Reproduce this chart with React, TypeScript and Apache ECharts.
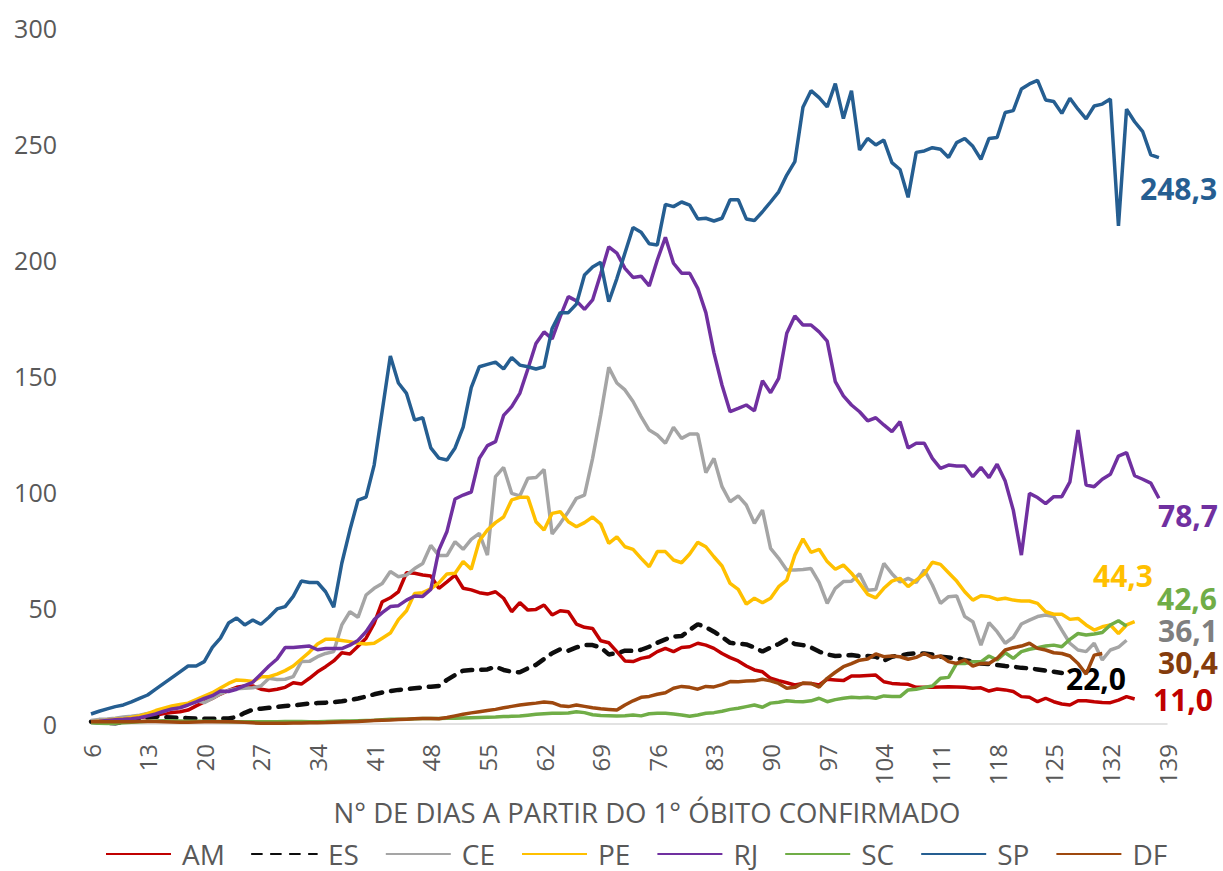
import React, { useEffect, useRef } from "react";
import * as echarts from "echarts";

const FIRST_DAY = 6;
const LAST_DAY = 139;
const days: string[] = [];
for (let d = FIRST_DAY; d <= LAST_DAY; d++) days.push(String(d));

const yTicks = { min: 0, max: 300, interval: 50 };

// values from day 6 onward
const AM = [
  1, 1.2, 1.4, 1.7, 2, 2.4, 2.8, 3.2, 3.8, 4.5,
  5, 5.3, 6, 7.8, 9.5, 11, 12.9, 14.5, 15.8, 16.4,
  16.4, 15, 14.4, 15, 15.8, 17.8, 17.2, 19.7, 22.5, 24.7,
  27.2, 30.7, 30.2, 33.5, 37, 43.4, 52.7, 54.4, 57, 65.2,
  65, 64.2, 63.8, 58.5, 61.3, 64.2, 58.5, 57.8, 56.6, 56,
  57, 54.2, 48.4, 52.3, 49.1, 49.4, 51.3, 47, 48.8, 48.4,
  43.1, 41.7, 41.2, 35.9, 35, 31.2, 27.2, 26.9, 28.3, 29,
  31.2, 32.6, 31.2, 33, 33.3, 34.8, 34, 32.6, 30.4, 28.6,
  27.2, 25, 23.3, 22.5, 19.7, 18.7, 17.8, 16.8, 17.5, 17.5,
  16.8, 19.3, 19, 18.7, 20.7, 20.7, 20.9, 21.1, 18.2, 17.5,
  17.2, 17.1, 15.8, 15.8, 15.8, 16, 16.1, 16, 15.8, 15.4,
  15.6, 14.2, 15.1, 14.7, 14, 11.8, 11.5, 9.6, 11.1, 9.6,
  8.6, 8.2, 10, 10, 9.6, 9.3, 9.2, 10.3, 11.8, 10.8,
];

const ES = [
  1, 0.8, 0.5, 0.3, 0.8, 1.5, 2.2, 2.8, 3.2, 3,
  2.8, 2.6, 2.5, 2.4, 2.3, 2.3, 2.3, 2.4, 3, 4.8,
  6.2, 6.6, 7, 7.4, 7.8, 8, 8.4, 8.8, 9, 9.2,
  9.4, 9.8, 10.3, 11, 11.8, 12.8, 13.6, 14.2, 14.7, 15,
  15.4, 15.8, 16.1, 16.4, 19, 21.1, 23, 23.3, 23.3, 23.5,
  24.7, 23.3, 22.5, 22.3, 24, 25.5, 28, 30.5, 32.2, 31.6,
  33, 34, 34, 33, 30, 30.5, 31.6, 31.5, 32, 33.3,
  35, 36.5, 37.7, 37.9, 40.5, 43, 41.7, 39.8, 37.5, 35,
  34.6, 34.3, 33, 31.2, 33, 34.5, 36.5, 34.5, 34, 33,
  31.2, 30, 29.3, 29.5, 29.7, 29.3, 29.3, 29, 27.3, 29,
  29.5, 30.2, 30.5, 30.4, 30, 29, 28.7, 28.3, 27.5, 27,
  26.1, 25.8, 25.4, 25, 24.7, 24.2, 24, 23.5, 23, 22.5,
  22,
];

const CE = [
  1.5, 2, 2.2, 2.5, 3, 3.3, 3.8, 4.5, 5, 5.5,
  6.5, 7.5, 8.5, 10, 9.2, 11, 13, 14.5, 15.2, 15.4,
  15.6, 16.4, 19.7, 19.2, 19.3, 20.4, 26.9, 27, 29, 30.4,
  31.2, 42.7, 48.4, 46, 55.6, 58.5, 60.6, 65.7, 63.5, 64.2,
  67, 69.2, 77, 72.6, 72.6, 78.6, 75.3, 79.6, 82.2, 72.8,
  106.6, 110.6, 99.4, 98.3, 105.9, 106.2, 109.7, 81.9, 86.5, 91.5,
  97.3, 98.7, 114.5, 133.2, 153.7, 147, 144, 139, 132.5, 126.7,
  124.6, 121, 127.9, 123.1, 125, 125, 108.3, 114.5, 102.3, 95.8,
  98.3, 94.4, 86.5, 92.2, 75.7, 71.4, 66.4, 66.4, 66.6, 67,
  61, 52, 58.5, 61.4, 61.5, 64.7, 57.7, 58, 69.2, 64.8,
  61.2, 62.8, 61, 66.4, 59.9, 52, 54.9, 55.2, 46.3, 44.1,
  34, 43.7, 39.8, 34.8, 37.4, 43.1, 44.8, 46.3, 47, 46.3,
  40.5, 34.8, 31.9, 31.2, 34.8, 27.6, 31.9, 33.1, 36.1,
];

const PE = [
  1, 1.3, 1.6, 2, 2.3, 2.8, 3.5, 4.5, 5.8, 6.8,
  7.8, 8.4, 9, 10.5, 12, 13.5, 15.5, 17.5, 19, 18.8,
  18.3, 20.4, 20.4, 21.5, 23, 25, 28, 31, 34.5, 36.5,
  36.5, 36, 35.5, 34.8, 34.5, 34.8, 37, 39.2, 45, 48.8,
  56.3, 56.6, 58.3, 60.8, 64.7, 65, 70, 66.7, 79, 83.6,
  86.8, 89.2, 96.6, 97.7, 97.7, 87.2, 83.6, 90.8, 91.5, 87.2,
  85, 86.8, 89.2, 86.2, 77.9, 80.7, 76.4, 75.3, 71.4, 67.8,
  74.3, 74.3, 70.7, 69.5, 73.3, 78.3, 76.4, 72.1, 68.1, 60.6,
  58, 51.7, 54.2, 52.3, 54.2, 59.2, 62, 72.8, 79.8, 74,
  75.3, 70, 66.7, 68.5, 65, 60.6, 55.9, 54.4, 58.5, 61.6,
  62.8, 59.2, 62, 64.7, 69.7, 68.8, 65.2, 61.6, 57, 53.4,
  55.3, 54.9, 53.7, 54.2, 53.4, 53, 53, 52, 48.4, 47.3,
  47.3, 45.1, 45.5, 42.7, 40.5, 41.9, 42.7, 39, 42.7, 44.1,
];

const RJ = [
  1, 1.2, 1.5, 1.8, 2, 2.3, 2.7, 3.5, 4.3, 5.5,
  6.5, 7, 8.2, 9.5, 11, 12.2, 14.2, 14, 15, 16.5,
  18, 21.5, 25, 28, 33, 33, 33.3, 33.6, 32, 32.5,
  32.5, 32.5, 34, 36, 39.8, 45, 48, 50.6, 51, 53.4,
  55.2, 55, 58, 75, 83, 97, 98.7, 100, 114.5, 120,
  121.7, 133, 136.8, 142.5, 153, 164, 169, 166, 175.6, 184.2,
  182.4, 178.7, 182.8, 194, 205.7, 203, 196.4, 192.5, 193, 188.8,
  200, 209.8, 198.6, 194.3, 194.3, 187.8, 177.3, 160, 146, 134.6,
  136, 137.5, 135, 148, 142.8, 149, 168.4, 175.9, 172, 172,
  169, 165, 147.6, 141.4, 137.5, 134.6, 130.7, 132, 128.9, 126,
  130.3, 119, 121, 121, 114.5, 110.2, 111.6, 111.2, 111.2, 106.6,
  110.6, 106.2, 112, 104.7, 92.2, 72.8, 99.4, 97.6, 95, 98,
  98, 104.4, 126.7, 103, 102.3, 105.5, 107.6, 115.5, 117, 107,
  105.5, 103.8, 97.3,
];

const SC = [
  0.5, 0.3, 0.2, 0.3, 0.5, 0.8, 1, 1.2, 1.3, 1.4,
  1.4, 1.3, 1.2, 1.2, 1.2, 1.2, 1.1, 1, 1, 1,
  1, 1, 1, 1, 1.1, 1.1, 1.1, 1, 1, 1.1,
  1.2, 1.3, 1.3, 1.4, 1.5, 1.6, 1.8, 2, 2, 2.1,
  2.3, 2.4, 2.4, 2.4, 2.5, 2.5, 2.6, 2.7, 2.8, 2.9,
  3, 3.2, 3.3, 3.4, 3.8, 4.2, 4.4, 4.6, 4.6, 4.7,
  5.3, 4.9, 4, 3.7, 3.6, 3.5, 3.6, 3.9, 3.5, 4.4,
  4.6, 4.6, 4.3, 3.9, 3.3, 3.9, 4.6, 4.9, 5.5, 6.3,
  6.8, 7.5, 8.2, 7.2, 9, 9.4, 10, 9.7, 9.6, 10,
  11.1, 9.6, 10.5, 11.1, 11.5, 11.3, 11.5, 11.1, 12.1, 11.9,
  11.8, 14.7, 15, 15.7, 16.4, 19.7, 20.1, 26.1, 26.1, 26.8,
  26.8, 29.3, 27.6, 30.7, 28.3, 31.2, 32.2, 32.9, 33.6, 34,
  33.3, 36.5, 39, 38.4, 38.8, 39.4, 42.7, 44.5, 42.2,
];

const SP = [
  4.3, 5.5, 6.5, 7.5, 8.2, 9.5, 11, 12.5, 15, 17.5,
  20, 22.5, 25, 25, 26.9, 33, 37, 43.5, 45.7, 42.7,
  44.8, 43, 46, 49.6, 50.6, 55, 61.6, 61, 61, 57,
  50.4, 69.3, 83.6, 96.5, 97.8, 111.6, 135, 158.6, 147, 142.5,
  131, 132, 119, 114.6, 113.8, 119, 128, 145, 154, 155,
  156, 153, 158, 154.7, 154, 153, 154, 170.5, 177.3, 177.3,
  181, 193.5, 197, 199, 182, 192, 203, 214, 212, 207,
  206.5, 224, 223, 225, 223.7, 217.7, 218, 216.8, 218, 226,
  226, 217.7, 217, 220.8, 225, 229.4, 236.6, 242.4, 265.8, 273,
  270, 266, 276, 261, 273, 247.4, 252.4, 249.6, 251.7, 242,
  239, 227, 246.4, 247, 248.4, 247.7, 244.2, 250.6, 252.4, 249,
  243.4, 252.4, 252.8, 263.6, 264.4, 273.7, 275.9, 277.4, 269, 268.3,
  263.2, 269.7, 265, 260.8, 266.4, 267.2, 269.4, 214.7, 265, 259.6,
  255.3, 245.3, 244.1,
];

const DF = [
  1, 1, 1, 1, 1, 1, 1.1, 1.2, 1.1, 1,
  0.9, 0.8, 0.8, 0.9, 1, 1, 1, 1, 0.9, 0.7,
  0.5, 0.3, 0.3, 0.3, 0.3, 0.4, 0.4, 0.5, 0.5, 0.6,
  0.8, 0.9, 1, 1.1, 1.3, 1.5, 1.6, 1.7, 1.9, 2.1,
  2.3, 2.4, 2.4, 2.3, 2.8, 3.5, 4.2, 4.8, 5.3, 5.8,
  6.3, 7, 7.6, 8.2, 8.6, 9, 9.5, 9.2, 7.9, 7.5,
  8.2, 7.6, 7, 6.6, 6.3, 6, 8.2, 10, 11.5, 11.9,
  12.8, 13.5, 15.4, 16.2, 15.8, 15, 16.2, 16, 17, 18.3,
  18.2, 18.5, 18.6, 19.3, 18.6, 17.5, 15.4, 15.8, 17.7, 17.5,
  15.9, 19.7, 22.3, 24.7, 26, 27.5, 28, 30.2, 29, 29.3,
  29, 27.9, 28.7, 30.4, 28.7, 29.3, 26.9, 26.1, 27.6, 25,
  26.1, 26.1, 28.3, 31.9, 32.9, 33.6, 34.8, 32.6, 31.9, 30.7,
  30.4, 29.3, 26.1, 21.5, 29.7, 30.4,
];

const seriesNames = ["AM", "ES", "CE", "PE", "RJ", "SC", "SP", "DF"];
const seriesData = [AM, ES, CE, PE, RJ, SC, SP, DF];
const seriesColors = ["#C00000", "#0D0D0D", "#A5A5A5", "#FFC000", "#7030A0", "#70AD47", "#255E91", "#9E480E"];

const endLabels = ["248,3", "78,7", "44,3", "42,6", "36,1", "30,4", "22,0", "11,0"];
const endLabelColors = ["#255E91", "#7030A0", "#FFC000", "#70AD47", "#7F7F7F", "#843C0C", "#000000", "#C00000"];
const endLabelPos: [number, number][] = [
  [1140, 188], [1158, 515], [1093, 575], [1157, 598],
  [1158, 630], [1158, 662], [1066, 678], [1153, 699],
];

const xTitle = "N° DE DIAS A PARTIR DO 1° ÓBITO CONFIRMADO";
const FONT = "'Open Sans', 'Noto Sans', sans-serif";

function pad(arr: number[]): (number | null)[] {
  const out: (number | null)[] = arr.slice();
  while (out.length < days.length) out.push(null);
  return out;
}

export default function App() {
  const ref = useRef<HTMLDivElement>(null);
  useEffect(() => {
    if (!ref.current) return;
    const chart = echarts.init(ref.current, undefined, { renderer: "svg" });
    const series = seriesNames.map((name, i) => ({
      name,
      type: "line",
      data: pad(seriesData[i]),
      symbol: "none",
      connectNulls: false,
      lineStyle:
        name === "ES"
          ? { color: seriesColors[i], width: 4.5, type: [10, 9], cap: "round" }
          : { color: seriesColors[i], width: 3.5 },
      itemStyle: { color: seriesColors[i] },
      z: 2 + i,
    }));
    chart.setOption({
      animation: false,
      backgroundColor: "#ffffff",
      textStyle: { fontFamily: FONT },
      grid: { left: 91, right: 56, top: 28, bottom: 147, containLabel: false },
      xAxis: {
        type: "category",
        data: days,
        boundaryGap: false,
        axisLine: { show: true, lineStyle: { color: "#D9D9D9", width: 1.5 } },
        axisTick: { show: false },
        axisLabel: {
          interval: 6,
          rotate: 90,
          margin: 20,
          color: "#595959",
          fontSize: 24,
          fontFamily: FONT,
        },
        splitLine: { show: false },
      },
      yAxis: {
        type: "value",
        min: yTicks.min,
        max: yTicks.max,
        interval: yTicks.interval,
        axisLine: { show: false },
        axisTick: { show: false },
        splitLine: { show: false },
        axisLabel: { color: "#595959", fontSize: 25, margin: 34, fontFamily: FONT },
      },
      legend: {
        data: seriesNames,
        top: 835,
        left: 100,
        itemWidth: 65,
        itemHeight: 14,
        itemGap: 26,
        itemStyle: { opacity: 0 },
        textStyle: {
          color: "#595959",
          fontSize: 28,
          lineHeight: 28,
          fontFamily: FONT,
          padding: [0, 0, 0, 6],
        },
      },
      graphic: [
        {
          type: "text",
          x: 647,
          y: 812,
          style: {
            text: xTitle,
            fill: "#595959",
            font: `27.5px ${FONT}`,
            textAlign: "center",
            textVerticalAlign: "middle",
          },
        },
        ...endLabels.map((t, i) => ({
          type: "text",
          x: endLabelPos[i][0],
          y: endLabelPos[i][1],
          style: {
            text: t,
            fill: endLabelColors[i],
            font: `bold 30px ${FONT}`,
            lineHeight: 26,
            textAlign: "left",
            textVerticalAlign: "middle",
          },
        })),
      ],
      series,
    });
    return () => chart.dispose();
  }, []);
  return (
    <div
      ref={ref}
      style={{ position: "fixed", left: 0, top: 0, width: "1223px", height: "871px", background: "#fff" }}
    />
  );
}
